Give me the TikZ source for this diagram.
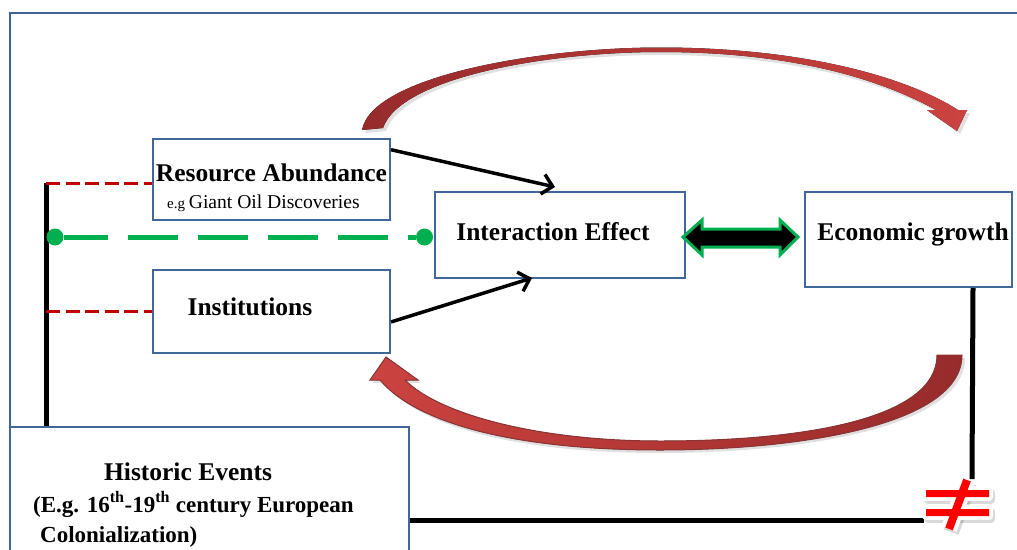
\documentclass[tikz,border=0pt]{standalone}
\usepackage{fontspec}
\setmainfont{Liberation Serif}
\usetikzlibrary{calc,arrows.meta}

\definecolor{boxblue}{HTML}{41679A}
\definecolor{frameblue}{HTML}{3F6193}
\definecolor{dashred}{HTML}{C00000}
\definecolor{dashgreen}{HTML}{00B050}
\definecolor{loopdark}{HTML}{972B2B}
\definecolor{looplight}{HTML}{CB4340}
\definecolor{loopedge}{HTML}{8A3434}

\begin{document}
\begin{tikzpicture}[x=1pt,y=-1pt,
	box/.style = {draw=boxblue, line width=2pt, fill=white, inner sep=0pt},
	lbl/.style = {inner sep=0pt, font=\fontsize{25.5}{30}\selectfont\bfseries},
	sublbl/.style = {inner sep=0pt, font=\fontsize{23}{27}\selectfont\bfseries},
	thinarrow/.style = {line width=3.5pt, -{Straight Barb[length=10pt,width=20pt]}},
	reddash/.style = {draw=dashred, line width=3.5pt, dash pattern=on 14pt off 5.5pt},
	greenlink/.style = {draw=dashgreen, line width=5pt, dash pattern=on 50pt off 20pt, dash phase=5.5pt},
	dot/.style = {circle, fill=dashgreen, inner sep=0pt, minimum size=17pt},
	heavyline/.style = {line width=5pt, black}
	]
  \clip (0,0) rectangle (1017,549);
  \fill[white] (0,0) rectangle (1017,549);
  % outer frame
  \draw[frameblue, line width=2.5pt] (10,560) -- (10,13) -- (1030,13);

  % boxes
  \node[box, minimum width=237pt, minimum height=81pt] (res) at (271.5,179.5) {};
  \node[box, minimum width=237pt, minimum height=83pt] (inst) at (271.5,311.5) {};
  \node[box, minimum width=250pt, minimum height=86pt] (inter) at (560,235) {};
  \node[box, minimum width=207pt, minimum height=95pt] (growth) at (908.5,239.5) {};
  \node[box, minimum width=399pt, minimum height=144pt] (hist) at (209.5,499) {};

  % texts
  \node[lbl, anchor=base] (resA) at ($(res.center)+(0,1.5)$) {Resource Abundance};
  \node[inner sep=0pt, anchor=base west] (resB) at (167,208)
    {\fontsize{15}{17}\selectfont e.g \fontsize{19.6}{22}\selectfont Giant Oil Discoveries};
  \node[lbl, anchor=base] (instA) at (250,315) {Institutions};
  \node[lbl, anchor=base] (interA) at (553,240) {Interaction Effect};
  \node[lbl, anchor=base] (growthA) at (913,240) {Economic growth};
  \node[lbl, anchor=base] (histA) at (188,480) {Historic Events};
  \node[sublbl, anchor=base west] (histB) at (33,512)
    {(E.g. 16\textsuperscript{th}-19\textsuperscript{th} century European};
  \node[sublbl, anchor=base west] (histC) at (40,542) {Colonialization)};

  % left spine and its links
  \coordinate (spine) at (46,183.5);
  \draw[heavyline] ($(spine)+(0,-1)$) -- (spine |- hist.north);
  \draw[reddash] (spine) -- (spine -| res.west);
  \draw[reddash] (inst.west -| spine) -- (inst.west);
  \node[dot] (dotL) at ($(spine |- inter.west)+(9,2)$) {};
  \node[dot] (dotR) at ($(inter.west)+(-9.5,2)$) {};
  \draw[greenlink] (dotL) -- (dotR);

  % straight arrows into the interaction box
  \draw[thinarrow] (res.14) -- ($(inter.north)+(-5,-4)$);
  \draw[thinarrow] (inst.-5.5) -- ($(inter.south)+(-28,-1)$);

  % two-way block arrow
  \filldraw[fill=black, draw=dashgreen, line width=3pt, line join=miter]
    (683,237) -- (702,220) -- (702,229) -- (780,229) -- (780,220) -- (798,237)
    -- (780,255) -- (780,247) -- (702,247) -- (702,255) -- cycle;

  % curved feedback arrows (soft shadow first)
  \fill[black, opacity=0.12]
    (365,133) .. controls (375,79) and (540,50.5) .. (660,50.5)
    .. controls (800,50.5) and (908,79) .. (961,113) -- (970,113) -- (960,134)
    -- (930,113) -- (939,113) .. controls (881,81) and (790,55) .. (660,55)
    .. controls (545,55) and (403,81) .. (386,131) -- cycle;
  \fill[left color=loopdark, right color=looplight]
    (362,130) .. controls (372,76) and (540,47.5) .. (660,47.5)
    .. controls (800,47.5) and (905,76) .. (958,110) -- (967,110) -- (957,131)
    -- (927,110) -- (936,110) .. controls (878,78) and (790,52) .. (660,52)
    .. controls (545,52) and (400,78) .. (383,128) -- cycle;
  \fill[black, opacity=0.12]
    (965,358) .. controls (965,428) and (800,453) .. (660,453)
    .. controls (520,453) and (421,428) .. (383,383) -- (373,383) -- (389,360)
    -- (421,383) -- (408,383) .. controls (443,418) and (540,444) .. (660,444)
    .. controls (800,444) and (940,423) .. (940,358) -- cycle;
  \filldraw[left color=looplight, right color=loopdark, draw=loopedge, line width=1pt]
    (962,355) .. controls (962,425) and (800,450) .. (660,450)
    .. controls (520,450) and (418,425) .. (380,380) -- (370,380) -- (386,357)
    -- (418,380) -- (405,380) .. controls (440,415) and (540,441) .. (660,441)
    .. controls (800,441) and (937,420) .. (937,355) -- cycle;

  % growth does not lead back to history
  \coordinate (neqTop) at (972,479);
  \coordinate (neqLeft) at (924,520);
  \draw[heavyline] ($(growth.south east)+(-40,0)$) -- (neqTop);
  \draw[heavyline] ($(hist.east)+(0,21)$) -- (neqLeft);
  \begin{scope}[shift={(2,3)}]
    \draw[black, opacity=0.15, line width=8pt, line join=round]
      (926,490) rectangle (989,497) (926,509) rectangle (989,516);
    \draw[black, opacity=0.15, line width=16pt] (967,480) -- (949,529);
  \end{scope}
  \draw[white, line width=8pt, line join=round]
    (926,490) rectangle (989,497) (926,509) rectangle (989,516);
  \draw[white, line width=16pt] (967,480) -- (949,529);
  \fill[red] (926,490) rectangle (989,497) (926,509) rectangle (989,516);
  \draw[red, line width=8pt] (967,480) -- (949,529);
\end{tikzpicture}
\end{document}
